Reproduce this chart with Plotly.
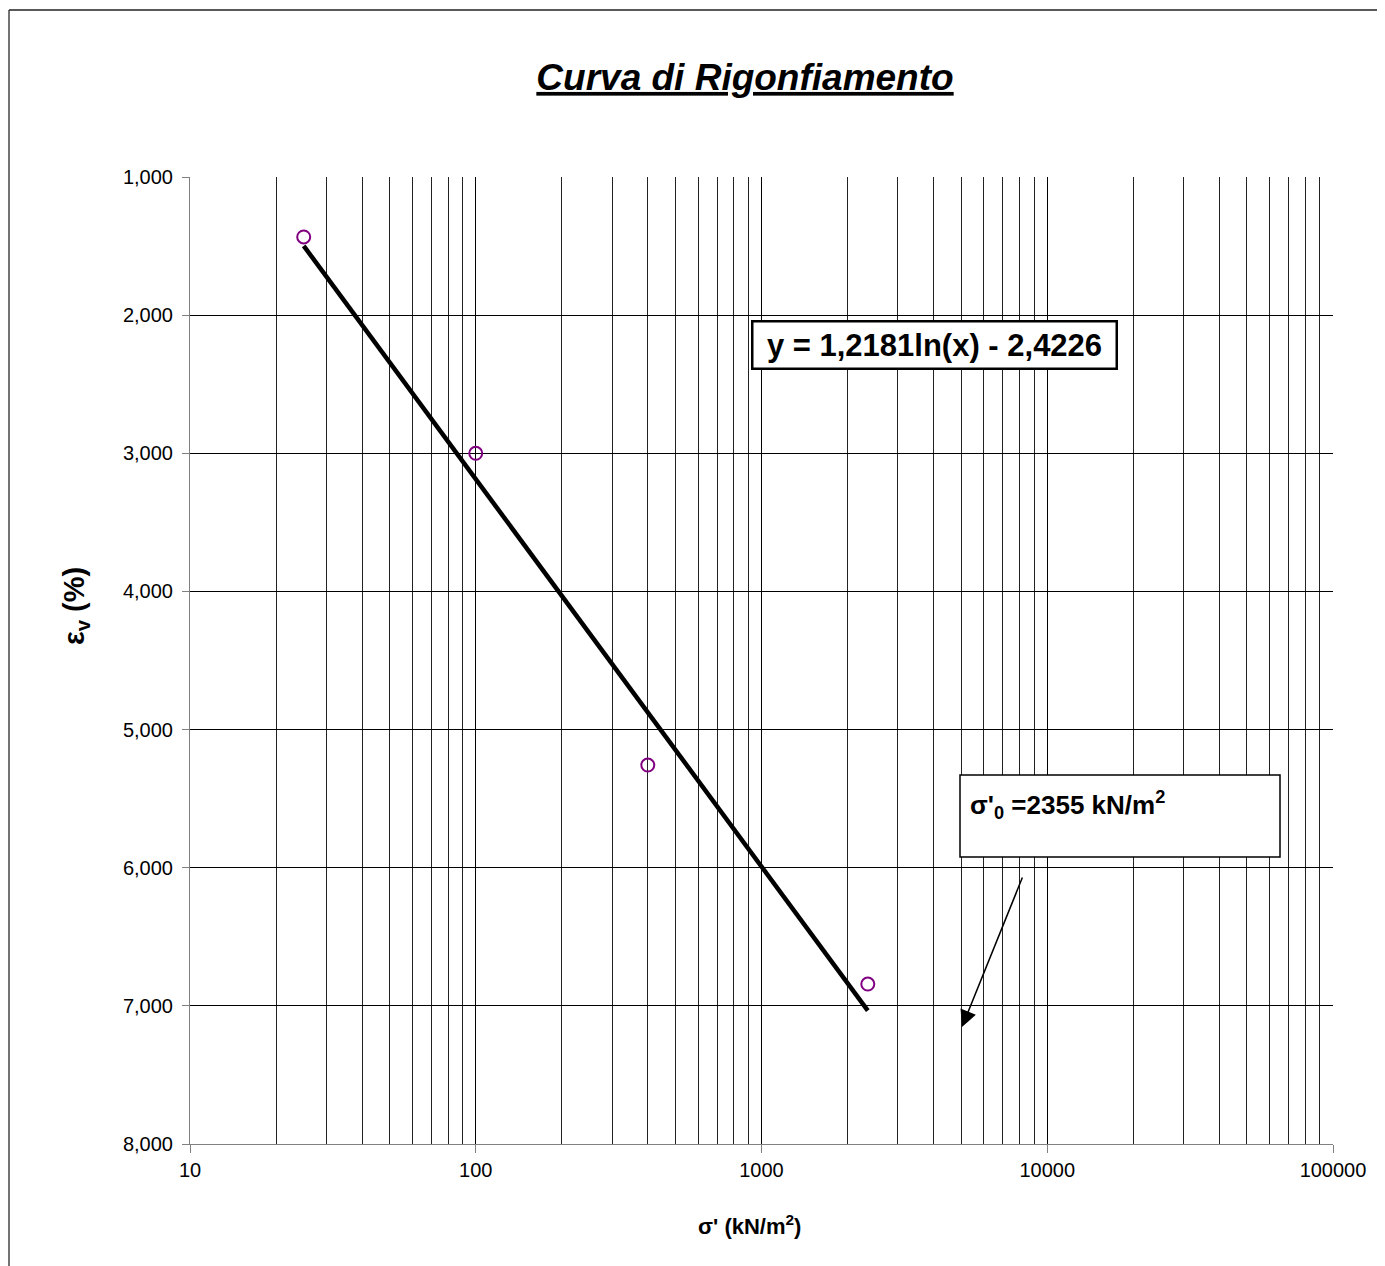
import numpy as np
import plotly.graph_objects as go

# Data
sigma = [25, 100, 400, 2355]              # kN/m2
eps_v = [1.434, 3.000, 5.257, 6.842]      # %
fit_a = 1.2181
fit_b = -2.4226
y_ticks = [1, 2, 3, 4, 5, 6, 7, 8]
y_tick_labels = ["1,000", "2,000", "3,000", "4,000", "5,000", "6,000", "7,000", "8,000"]
x_ticks = [10, 100, 1000, 10000, 100000]
x_tick_labels = ["10", "100", "1000", "10000", "100000"]

FONT = "Liberation Sans, Arial, sans-serif"

x_fit = [min(sigma), max(sigma)]
y_fit = [fit_a * np.log(v) + fit_b for v in x_fit]

fig = go.Figure()
fig.add_trace(go.Scatter(x=x_fit, y=y_fit, mode="lines",
                         line=dict(color="black", width=4.5), showlegend=False))
fig.add_trace(go.Scatter(x=sigma, y=eps_v, mode="markers",
                         marker=dict(symbol="circle-open", size=13, color="#800080",
                                     line=dict(width=2, color="#800080")),
                         showlegend=False))

OFF = 8  # page body margin
W, H = 1385 - OFF, 1266 - OFF
L, R, T, B = 190, 1333, 177, 1144  # page pixel coordinates of plot area
def px(x): return (x - L) / (R - L)
def py(y): return (B - y) / (B - T)

fig.update_layout(
    width=W, height=H,
    margin=dict(l=L - OFF, r=W - (R - OFF), t=T - OFF, b=H - (B - OFF)),
    paper_bgcolor="white", plot_bgcolor="white",
    font=dict(family=FONT, color="black"),
    title=dict(text="<u><b><i>Curva di Rigonfiamento</i></b></u>",
               font=dict(size=37, family=FONT, color="black"),
               x=px(745), xref="paper", xanchor="center",
               y=1 - (77 - OFF) / H, yref="container", yanchor="middle"),
    xaxis=dict(type="log", range=[1, 5], tickvals=x_ticks, ticktext=x_tick_labels,
               showgrid=True, gridcolor="#000000", gridwidth=1,
               minor=dict(showgrid=True, gridcolor="#222222", gridwidth=1, dtick="D1"),
               showline=True, linecolor="#808080", linewidth=1,
               ticks="outside", ticklen=8, tickcolor="#808080",
               tickfont=dict(size=20, family=FONT, color="black"),
               zeroline=False),
    yaxis=dict(range=[8, 1], tickvals=y_ticks, ticktext=y_tick_labels,
               showgrid=True, gridcolor="#000000", gridwidth=1,
               showline=True, linecolor="#808080", linewidth=1,
               ticks="outside", ticklen=7, tickcolor="#808080",
               ticklabelstandoff=5,
               tickfont=dict(size=20, family=FONT, color="black"),
               zeroline=False),
)

# page border (left and top edges visible)
fig.add_shape(type="line", xref="paper", yref="paper",
              x0=px(OFF + 1), x1=px(OFF + 1), y0=py(1280), y1=py(10),
              line=dict(color="#444444", width=1.5), layer="below")
fig.add_shape(type="line", xref="paper", yref="paper",
              x0=px(OFF + 1), x1=px(1400), y0=py(10), y1=py(10),
              line=dict(color="#222222", width=1.5), layer="below")

# equation box
fig.add_annotation(xref="paper", yref="paper", x=px(934.5), y=py(345),
                   text="<b>y = 1,2181ln(x) - 2,4226</b>", showarrow=False,
                   font=dict(size=31, family=FONT, color="black"),
                   bgcolor="white", bordercolor="black", borderwidth=2.5,
                   width=360, height=43, xanchor="center", yanchor="middle")

# sigma'0 box
fig.add_shape(type="rect", xref="paper", yref="paper",
              x0=px(960), x1=px(1280), y0=py(857), y1=py(775),
              line=dict(color="black", width=1.5), fillcolor="white")
fig.add_annotation(xref="paper", yref="paper", x=px(968), y=py(805),
                   text="<b>σ'<sub>0</sub> =2355 kN/m<sup>2</sup></b>", showarrow=False,
                   font=dict(size=26, family=FONT, color="black"),
                   xanchor="left", yanchor="middle")

# arrow
fig.add_annotation(xref="paper", yref="paper", x=px(962), y=py(1027),
                   ax=61, ay=-151, text="", showarrow=True,
                   arrowhead=2, arrowsize=2.2, arrowwidth=1.5, arrowcolor="black")

# axis titles
fig.add_annotation(xref="paper", yref="paper", x=px(76), y=py(606),
                   text="<b>ε<sub>v</sub> (%)</b>", showarrow=False, textangle=-90,
                   font=dict(size=29, family=FONT, color="black"),
                   xanchor="center", yanchor="middle")
fig.add_annotation(xref="paper", yref="paper", x=px(749), y=py(1225),
                   text="<b>σ' (kN/m<sup>2</sup>)</b>", showarrow=False,
                   font=dict(size=22, family=FONT, color="black"),
                   xanchor="center", yanchor="middle")

fig.write_html("out.html")
